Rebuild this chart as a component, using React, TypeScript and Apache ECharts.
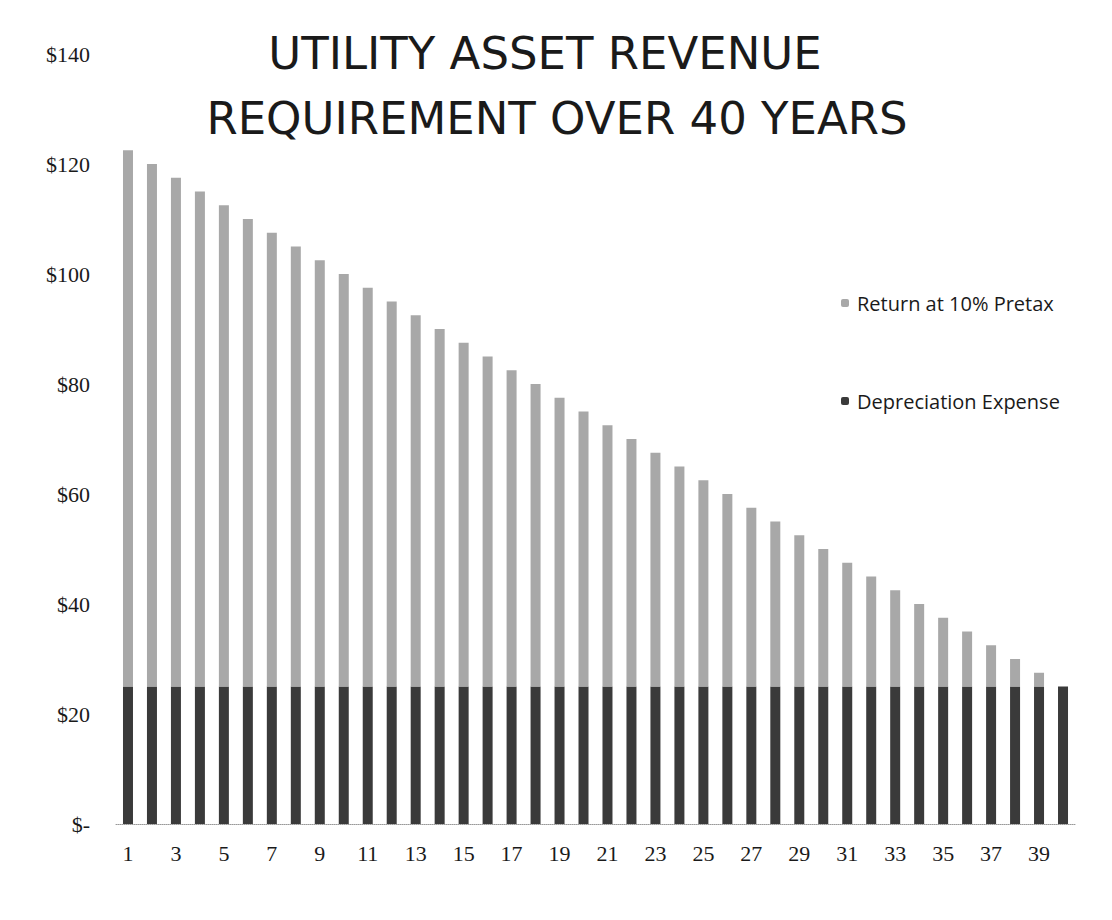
import React, { useEffect, useRef } from "react";
import * as echarts from "echarts";

const years: string[] = Array.from({ length: 40 }, (_, i) => String(i + 1));
const depreciation: number[] = [
  25, 25, 25, 25, 25, 25, 25, 25, 25, 25,
  25, 25, 25, 25, 25, 25, 25, 25, 25, 25,
  25, 25, 25, 25, 25, 25, 25, 25, 25, 25,
  25, 25, 25, 25, 25, 25, 25, 25, 25, 25,
];
const returnPretax: number[] = [
  97.5, 95, 92.5, 90, 87.5, 85, 82.5, 80, 77.5, 75,
  72.5, 70, 67.5, 65, 62.5, 60, 57.5, 55, 52.5, 50,
  47.5, 45, 42.5, 40, 37.5, 35, 32.5, 30, 27.5, 25,
  22.5, 20, 17.5, 15, 12.5, 10, 7.5, 5, 2.5, 0,
];
const titleLines = ["UTILITY ASSET REVENUE", "REQUIREMENT OVER 40 YEARS"];

export default function App() {
  const ref = useRef<HTMLDivElement>(null);
  useEffect(() => {
    if (!ref.current) return;
    const chart = echarts.init(ref.current, null, { renderer: "svg" });
    chart.setOption({
      animation: false,
      backgroundColor: "#ffffff",
      graphic: [
        {
          type: "text",
          x: 545,
          y: 53,
          style: {
            text: titleLines[0],
            font: "45px 'DejaVu Sans'",
            fill: "#1a1a1a",
            textAlign: "center",
            textVerticalAlign: "middle",
          },
        },
        {
          type: "text",
          x: 557,
          y: 118,
          style: {
            text: titleLines[1],
            font: "45px 'DejaVu Sans'",
            fill: "#1a1a1a",
            textAlign: "center",
            textVerticalAlign: "middle",
          },
        },
        {
          type: "line",
          shape: { x1: 5.5, y1: 20, x2: 5.5, y2: 918 },
          style: { stroke: "#777", lineWidth: 1, lineDash: [1, 2] },
        },
        {
          type: "line",
          shape: { x1: 1109.5, y1: 790, x2: 1109.5, y2: 918 },
          style: { stroke: "#777", lineWidth: 1, lineDash: [1, 2] },
        },
      ],
      legend: {
        orient: "vertical",
        left: 836,
        top: 288,
        itemGap: 78,
        itemWidth: 8,
        itemHeight: 8,
        data: ["Return at 10% Pretax", "Depreciation Expense"],
        textStyle: {
          fontFamily: "Open Sans",
          fontSize: 20,
          color: "#1a1a1a",
          padding: [0, 0, 0, 3],
        },
      },
      grid: { left: 116, right: 37, top: 54, bottom: 96, containLabel: false },
      xAxis: {
        type: "category",
        data: years,
        axisLine: { show: true, lineStyle: { color: "#999", type: "dotted" } },
        axisTick: { show: false },
        axisLabel: {
          interval: 1,
          margin: 18,
          fontFamily: "Liberation Serif",
          fontSize: 22,
          color: "#1a1a1a",
        },
      },
      yAxis: {
        type: "value",
        min: 0,
        max: 140,
        interval: 20,
        splitLine: { show: false },
        axisLine: { show: false },
        axisTick: { show: false },
        axisLabel: {
          margin: 26,
          fontFamily: "Liberation Serif",
          fontSize: 22,
          color: "#1a1a1a",
          formatter: (v: number) => (v === 0 ? "$-" : "$" + v),
        },
      },
      series: [
        {
          name: "Depreciation Expense",
          type: "bar",
          stack: "total",
          data: depreciation,
          barWidth: 10,
          itemStyle: { color: "#3a3a3a" },
        },
        {
          name: "Return at 10% Pretax",
          type: "bar",
          stack: "total",
          data: returnPretax,
          barWidth: 10,
          itemStyle: { color: "#a8a8a8" },
        },
      ],
    });
    return () => chart.dispose();
  }, []);
  return (
    <div
      ref={ref}
      style={{ width: 1112, height: 920, marginLeft: -8, marginTop: -8 }}
    />
  );
}
